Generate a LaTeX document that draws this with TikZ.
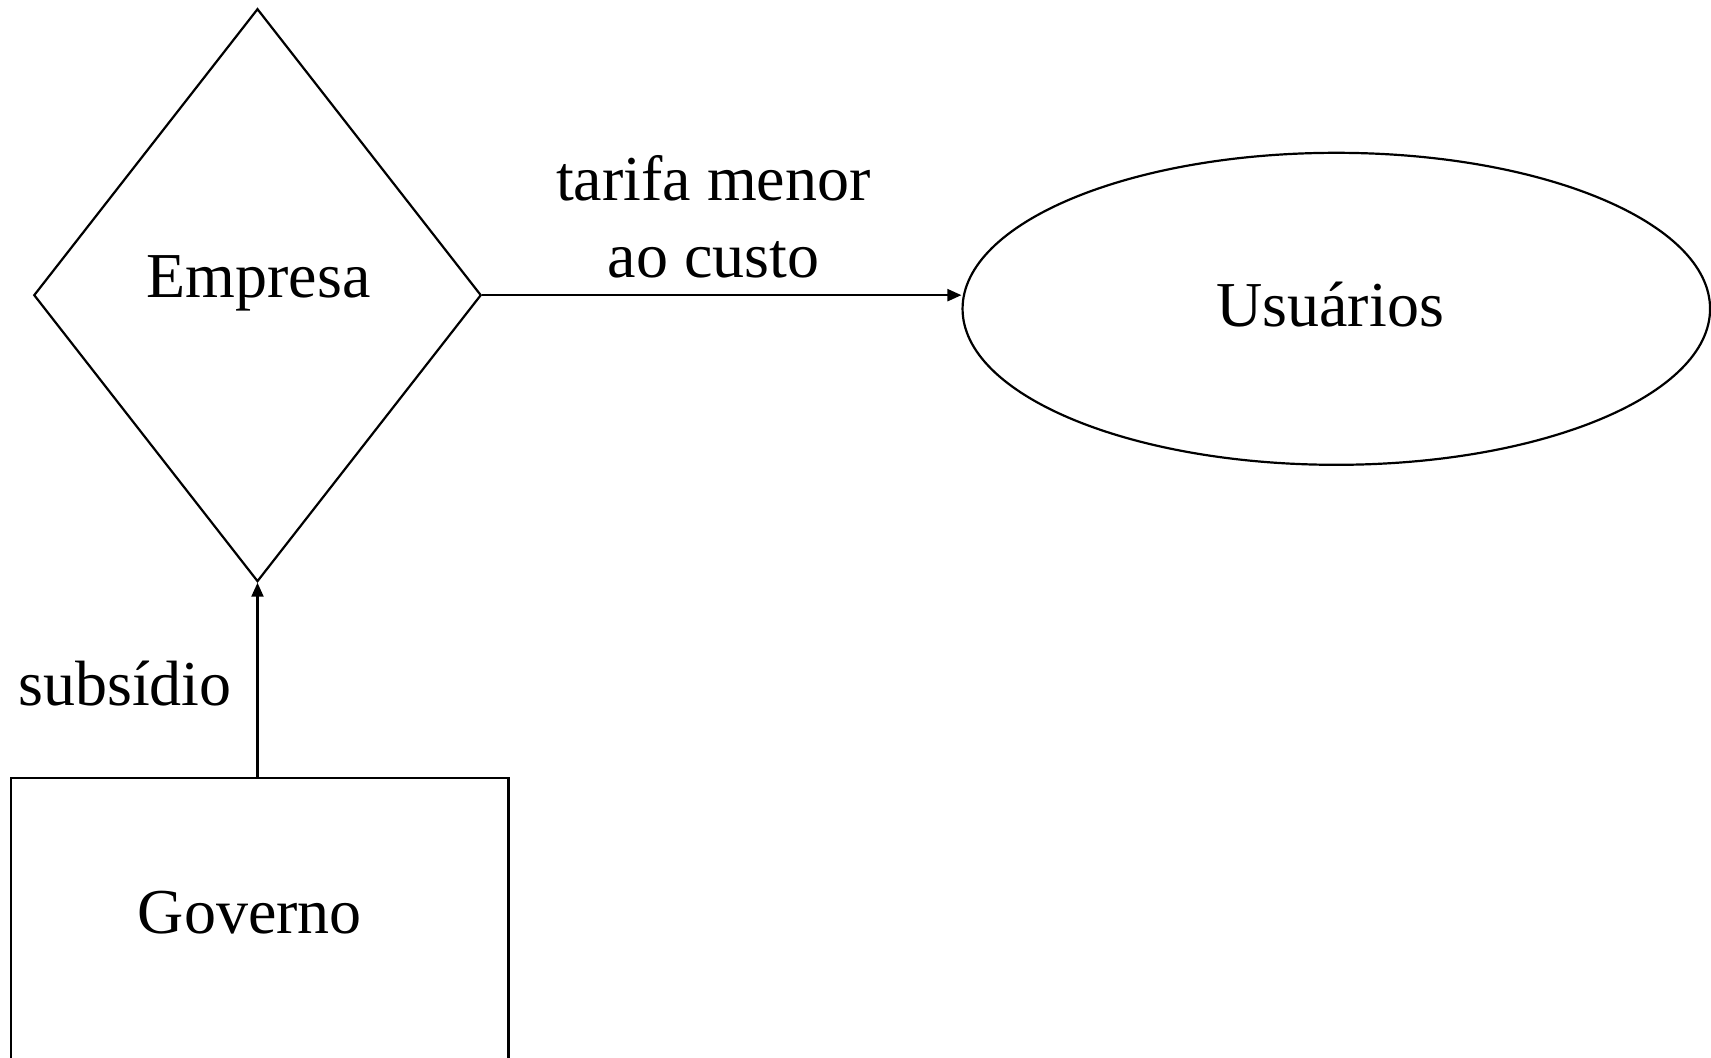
\documentclass[tikz,border=0pt]{standalone}
\usepackage{fontspec}
\setmainfont{Liberation Serif}
\usetikzlibrary{shapes.geometric, arrows.meta}

\begin{document}
\begin{tikzpicture}[x=0.5pt, y=-0.5pt, line width=1.1pt, >={Triangle[length=7pt, width=6pt]}]
        \tikzstyle{every node}+=[inner sep=0pt]
        \tikzstyle{txt}=[font=\fontsize{32}{38.2}\selectfont, anchor=base]
        \clip (0,0) rectangle (1711,1057);
        \node [draw, black, diamond, minimum width=223.7pt, minimum height=286.45pt] (empresa) at (257.5,295.15) {};
        \node [draw, black, ellipse, minimum width=373.75pt, minimum height=156pt] (usuarios) at (1336.3,308.8) {};
        \node [draw, black, rectangle, minimum width=248.8pt, minimum height=200pt] (governo) at (259.7,978) {};
        \node [txt] (lblEmpresa) at (258.6,297.9) {Empresa};
        \node [txt] (lblUsuarios) at (1330.2,326.3) {Usuários};
        \node [txt] (lblGoverno) at (249.9,933) {Governo};
        \node [txt] (lblSubsidio) at (124.9,705) {subsídio};
        \node [txt, align=center] (lblTarifa) at (713.4,277.2) {tarifa menor\\ao custo};
        \draw [black, ->] (empresa.east) -- (empresa.east -| usuarios.west);
        \draw [black, ->] (empresa.south |- governo.north) -- (empresa.south);
        \end{tikzpicture}
\end{document}
